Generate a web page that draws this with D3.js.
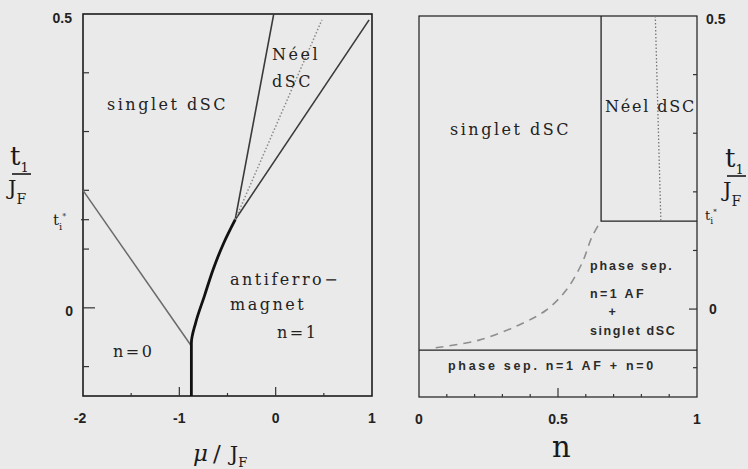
<!DOCTYPE html>
<html>
<head>
<meta charset="utf-8">
<script src="https://cdnjs.cloudflare.com/ajax/libs/d3/7.8.5/d3.min.js"></script>
<style>
body { margin: 0; background: #eaeaea; }
svg { display: block; }
.frame { fill: none; stroke: #1c1c1c; }
.tick { stroke: #333; stroke-width: 1.2; }
.ticklabel { font-family: "Liberation Sans", sans-serif; font-size: 14px; font-weight: bold; fill: #222; }
.region { font-family: "DejaVu Serif", serif; font-size: 16px; fill: #222; letter-spacing: 2.5px; }
.small { font-family: "Liberation Sans", sans-serif; font-size: 12.5px; font-weight: bold; fill: #2a2a2a; letter-spacing: 1.9px; }
.title { font-family: "DejaVu Serif", serif; fill: #1a1a1a; }
</style>
</head>
<body>
<div id="chart-area"></div>
<script>
var width = 748,
    height = 469;

// t_i* : where the Neel phase starts
var tStar = 0.15;

// left panel (mu / J_F)
var leftXTicks = [-2, -1, 0, 1];
var leftXMajor = [-1, 0];
var leftXMinor = [-1.5, -0.5, 0.5];
var leftYTicks = [0.4, 0.3, 0.2, 0.1, 0, -0.1];

var emptyBoundary = [[-2, 0.2], [-0.875, -0.065]];
var afBoundary = [[-0.875, -0.15], [-0.875, -0.06], [-0.83, -0.025], [-0.74, 0.02],
                  [-0.65, 0.065], [-0.54, 0.11], [-0.42, 0.15]];
var neelLower = [[-0.42, 0.15], [-0.02, 0.5]];
var neelUpper = [[-0.42, 0.15], [0.97, 0.49]];
var neelDotted = [[-0.42, 0.15], [0.48, 0.49]];

// right panel (n)
var rightXTicks = [0, 0.5, 1];
var rightXMinor = [0.1, 0.2, 0.3, 0.4, 0.6, 0.7, 0.8, 0.9];
var rightYTicks = [0.4, 0.3, 0.2, 0.1, 0, -0.1];

var phaseSepT = -0.07;
var neelN = 0.655;
var neelDotN = [[0.85, 0.5], [0.87, 0.15]];
var coexistCurve = [[0.06, -0.066], [0.216, -0.053], [0.36, -0.027], [0.457, -0.002],
                    [0.529, 0.032], [0.586, 0.078], [0.622, 0.123], [0.65, 0.147]];

var svg = d3.select("#chart-area").append("svg")
    .attr("width", width)
    .attr("height", height);

svg.append("rect")
    .attr("width", width)
    .attr("height", height)
    .attr("fill", "#eaeaea");

// ---------- left panel ----------
var xL = d3.scaleLinear().domain([-2, 1]).range([83, 372]);
var yL = d3.scaleLinear().domain([-0.15, 0.5]).range([396, 14]);

var lineL = d3.line()
    .x(function(d) { return xL(d[0]); })
    .y(function(d) { return yL(d[1]); });

var left = svg.append("g");

left.append("rect")
    .attr("class", "frame")
    .attr("x", xL(-2))
    .attr("y", yL(0.5))
    .attr("width", xL(1) - xL(-2))
    .attr("height", yL(-0.15) - yL(0.5))
    .attr("stroke-width", 1.6);

left.selectAll(".ytick")
    .data(leftYTicks)
  .enter().append("line")
    .attr("class", "tick")
    .attr("x1", xL(-2))
    .attr("x2", function(d) { return xL(-2) + (d == 0 ? 12 : 6); })
    .attr("y1", function(d) { return yL(d); })
    .attr("y2", function(d) { return yL(d); });

left.append("line")
    .attr("class", "tick")
    .attr("x1", xL(-2) - 2).attr("x2", xL(-2) + 6)
    .attr("y1", yL(tStar)).attr("y2", yL(tStar));

left.selectAll(".xmajor")
    .data(leftXMajor)
  .enter().append("line")
    .attr("class", "tick")
    .attr("x1", function(d) { return xL(d); })
    .attr("x2", function(d) { return xL(d); })
    .attr("y1", yL(-0.15))
    .attr("y2", yL(-0.15) - 9);

left.selectAll(".xminor")
    .data(leftXMinor)
  .enter().append("line")
    .attr("class", "tick")
    .attr("x1", function(d) { return xL(d); })
    .attr("x2", function(d) { return xL(d); })
    .attr("y1", yL(-0.15))
    .attr("y2", yL(-0.15) - 3);

left.selectAll(".xlabel")
    .data(leftXTicks)
  .enter().append("text")
    .attr("class", "ticklabel")
    .attr("x", function(d) { return xL(d) - (d == -2 ? 3 : 0); })
    .attr("y", 423)
    .attr("text-anchor", "middle")
    .text(function(d) { return d; });

left.append("text").attr("class", "ticklabel")
    .attr("x", 72).attr("y", yL(0.5) + 9).attr("text-anchor", "end").text("0.5");
left.append("text").attr("class", "ticklabel")
    .attr("x", 73).attr("y", yL(0) + 8).attr("text-anchor", "end").text("0");

var tsL = left.append("text").attr("class", "title")
    .attr("x", 53).attr("y", yL(tStar) + 5).style("font-size", "15px");
tsL.append("tspan").text("t");
tsL.append("tspan").attr("dy", 5).style("font-size", "10px").text("i");
tsL.append("tspan").attr("dx", 0).attr("dy", -11).style("font-size", "8px").text("*");

// phase boundaries
left.append("path")
    .attr("d", lineL(emptyBoundary))
    .attr("fill", "none").attr("stroke", "#6a6a6a").attr("stroke-width", 1.5);

left.append("path")
    .attr("d", lineL(neelLower))
    .attr("fill", "none").attr("stroke", "#3a3a3a").attr("stroke-width", 1.6);

left.append("path")
    .attr("d", lineL(neelUpper))
    .attr("fill", "none").attr("stroke", "#3a3a3a").attr("stroke-width", 1.6);

left.append("path")
    .attr("d", lineL(neelDotted))
    .attr("fill", "none").attr("stroke", "#8a8a8a").attr("stroke-width", 1.5)
    .attr("stroke-dasharray", "1.5,2");

left.append("path")
    .attr("d", lineL.curve(d3.curveMonotoneY)(afBoundary))
    .attr("fill", "none").attr("stroke", "#111").attr("stroke-width", 2.8);
lineL.curve(d3.curveLinear);

left.append("text").attr("class", "region").attr("x", 107).attr("y", 110).text("singlet dSC");
left.append("text").attr("class", "region").attr("x", 272).attr("y", 60).text("Néel");
left.append("text").attr("class", "region").attr("x", 272).attr("y", 87).text("dSC");
left.append("text").attr("class", "region").attr("x", 230).attr("y", 285).text("antiferro−");
left.append("text").attr("class", "region").attr("x", 230).attr("y", 310).text("magnet");
left.append("text").attr("class", "region").attr("x", 277).attr("y", 338).text("n=1");
left.append("text").attr("class", "region").attr("x", 113).attr("y", 357).text("n=0");

// ---------- right panel ----------
var xR = d3.scaleLinear().domain([0, 1]).range([419, 697]);
var yR = d3.scaleLinear().domain([-0.15, 0.5]).range([397, 16]);

var lineR = d3.line()
    .x(function(d) { return xR(d[0]); })
    .y(function(d) { return yR(d[1]); });

var right = svg.append("g");

right.append("rect")
    .attr("class", "frame")
    .attr("x", xR(0))
    .attr("y", yR(0.5))
    .attr("width", xR(1) - xR(0))
    .attr("height", yR(-0.15) - yR(0.5))
    .attr("stroke-width", 1.2);

right.selectAll(".ytick")
    .data(rightYTicks)
  .enter().append("line")
    .attr("class", "tick")
    .attr("x1", xR(1))
    .attr("x2", function(d) { return xR(1) - (d == 0 ? 8 : 4); })
    .attr("y1", function(d) { return yR(d); })
    .attr("y2", function(d) { return yR(d); });

right.selectAll(".xmajor")
    .data([0.5])
  .enter().append("line")
    .attr("class", "tick")
    .attr("x1", function(d) { return xR(d); })
    .attr("x2", function(d) { return xR(d); })
    .attr("y1", yR(-0.15))
    .attr("y2", yR(-0.15) - 9);

right.selectAll(".xminor")
    .data(rightXMinor)
  .enter().append("line")
    .attr("class", "tick")
    .attr("x1", function(d) { return xR(d); })
    .attr("x2", function(d) { return xR(d); })
    .attr("y1", yR(-0.15))
    .attr("y2", yR(-0.15) - 3);

right.selectAll(".xlabel")
    .data(rightXTicks)
  .enter().append("text")
    .attr("class", "ticklabel")
    .attr("x", function(d) { return xR(d); })
    .attr("y", 424)
    .attr("text-anchor", "middle")
    .text(function(d) { return d; });

right.append("text").attr("class", "ticklabel")
    .attr("x", 706).attr("y", yR(0.5) + 8).text("0.5");
right.append("text").attr("class", "ticklabel")
    .attr("x", 709).attr("y", yR(0) + 5).text("0");

var tsR = right.append("text").attr("class", "title")
    .attr("x", 705).attr("y", yR(tStar) - 1).style("font-size", "13px");
tsR.append("tspan").text("t");
tsR.append("tspan").attr("dy", 4).style("font-size", "9px").text("i");
tsR.append("tspan").attr("dx", 0).attr("dy", -10).style("font-size", "7px").text("*");

// phase separation AF + empty
right.append("path")
    .attr("d", lineR([[0, phaseSepT], [1, phaseSepT]]))
    .attr("fill", "none").attr("stroke", "#222").attr("stroke-width", 1.3);

// Neel region box
right.append("path")
    .attr("d", lineR([[neelN, 0.5], [neelN, tStar], [1, tStar]]))
    .attr("fill", "none").attr("stroke", "#222").attr("stroke-width", 1.3);

right.append("path")
    .attr("d", lineR(neelDotN))
    .attr("fill", "none").attr("stroke", "#777").attr("stroke-width", 1.3)
    .attr("stroke-dasharray", "1.5,2");

right.append("path")
    .attr("d", lineR.curve(d3.curveCatmullRom)(coexistCurve))
    .attr("fill", "none").attr("stroke", "#8e8e8e").attr("stroke-width", 1.6)
    .attr("stroke-dasharray", "8,6");

right.append("text").attr("class", "region").attr("x", 450).attr("y", 135).text("singlet dSC");
right.append("text").attr("class", "region").attr("x", 605).attr("y", 112)
    .style("letter-spacing", "1.8px").text("Néel dSC");

right.append("text").attr("class", "small").attr("x", 590).attr("y", 270).text("phase sep.");
right.append("text").attr("class", "small").attr("x", 590).attr("y", 298)
    .style("letter-spacing", "2.4px").text("n=1 AF");
right.append("text").attr("class", "small").attr("x", 613).attr("y", 316)
    .attr("text-anchor", "middle").text("+");
right.append("text").attr("class", "small").attr("x", 590).attr("y", 335)
    .style("letter-spacing", "1.6px").text("singlet dSC");
right.append("text").attr("class", "small").attr("x", 448).attr("y", 370)
    .style("letter-spacing", "2.7px").text("phase sep. n=1 AF + n=0");

// ---------- axis titles ----------
function fracTitle(x, y) {
  var g = svg.append("g").attr("transform", "translate(" + x + "," + y + ")");
  var top = g.append("text").attr("class", "title").attr("x", 0).attr("y", 0);
  top.append("tspan").style("font-size", "26px").text("t");
  top.append("tspan").attr("dy", 7).style("font-size", "13px").text("1");
  g.append("line").attr("x1", 2).attr("x2", 21).attr("y1", 9).attr("y2", 9)
      .attr("stroke", "#1a1a1a").attr("stroke-width", 1.6);
  var bot = g.append("text").attr("class", "title").attr("x", -2).attr("y", 30);
  bot.append("tspan").style("font-size", "21px").text("J");
  bot.append("tspan").attr("dy", 9).style("font-size", "14px").text("F");
}
fracTitle(10, 165);
fracTitle(725, 167);

var mu = svg.append("text").attr("class", "title").attr("x", 193).attr("y", 461);
mu.append("tspan").style("font-size", "23px").style("font-style", "italic").text("μ");
mu.append("tspan").attr("dx", 5).style("font-size", "23px").text("/");
mu.append("tspan").attr("dx", 9).style("font-size", "21px").text("J");
mu.append("tspan").attr("dy", 6).style("font-size", "13px").text("F");

svg.append("text").attr("class", "title")
    .attr("x", 552).attr("y", 457)
    .style("font-size", "29px")
    .text("n");
</script>
</body>
</html>
